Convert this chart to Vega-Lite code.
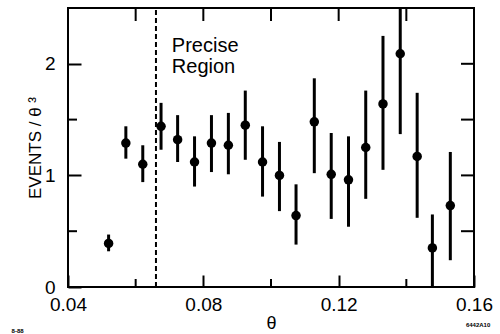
{
  "$schema": "https://vega.github.io/schema/vega-lite/v6.json",
  "width": 406,
  "height": 279,
  "autosize": {"type": "none"},
  "padding": {"left": 68, "top": 8, "right": 26, "bottom": 47},
  "background": "white",
  "config": {
    "view": {"stroke": "black", "strokeWidth": 2},
    "font": "Liberation Sans",
    "axis": {"grid": false, "domain": false, "ticks": true, "tickColor": "black", "tickWidth": 2, "tickOpacity": 1, "zindex": 1, "labelColor": "black", "titleColor": "black", "labelFont": "Liberation Sans", "titleFont": "Liberation Sans", "labelFontSize": 19, "titleFontSize": 17, "titleFontWeight": "normal", "labelFlush": false, "labelOverlap": false, "labelBound": false}
  },
  "datasets": {
    "pts": [
      {"theta": 0.0520, "v": 0.39, "lo": 0.32, "hi": 0.47},
      {"theta": 0.0571, "v": 1.29, "lo": 1.15, "hi": 1.44},
      {"theta": 0.0621, "v": 1.10, "lo": 0.94, "hi": 1.27},
      {"theta": 0.0675, "v": 1.44, "lo": 1.23, "hi": 1.65},
      {"theta": 0.0724, "v": 1.32, "lo": 1.12, "hi": 1.54},
      {"theta": 0.0774, "v": 1.12, "lo": 0.90, "hi": 1.35},
      {"theta": 0.0824, "v": 1.29, "lo": 1.03, "hi": 1.54},
      {"theta": 0.0874, "v": 1.27, "lo": 1.01, "hi": 1.56},
      {"theta": 0.0924, "v": 1.45, "lo": 1.14, "hi": 1.76},
      {"theta": 0.0975, "v": 1.12, "lo": 0.81, "hi": 1.44},
      {"theta": 0.1025, "v": 1.00, "lo": 0.68, "hi": 1.30},
      {"theta": 0.1074, "v": 0.64, "lo": 0.38, "hi": 0.92},
      {"theta": 0.1128, "v": 1.48, "lo": 1.02, "hi": 1.87},
      {"theta": 0.1178, "v": 1.01, "lo": 0.61, "hi": 1.38},
      {"theta": 0.1229, "v": 0.96, "lo": 0.54, "hi": 1.35},
      {"theta": 0.1280, "v": 1.25, "lo": 0.79, "hi": 1.76},
      {"theta": 0.1331, "v": 1.64, "lo": 1.05, "hi": 2.25},
      {"theta": 0.1382, "v": 2.09, "lo": 1.37, "hi": 2.50},
      {"theta": 0.1432, "v": 1.17, "lo": 0.62, "hi": 1.74},
      {"theta": 0.1477, "v": 0.35, "lo": 0.0, "hi": 0.65},
      {"theta": 0.1530, "v": 0.73, "lo": 0.24, "hi": 1.21}
    ],
    "cut": [{"theta": 0.066, "lo": 0, "hi": 2.5}],
    "labels": [
      {"theta": 0.0707, "v": 2.108, "t": "Precise"},
      {"theta": 0.0707, "v": 1.919, "t": "Region"}
    ],
    "notes": [
      {"theta": 0.1612, "v": -0.34, "t": "6442A10"},
      {"theta": 0.0251, "v": -0.39, "t": "8-88"}
    ],
    "tickBottomMinor": [{"theta": 0.06, "v": 0}, {"theta": 0.10, "v": 0}, {"theta": 0.14, "v": 0}],
    "tickTop": [{"theta": 0.06, "v": 2.5}, {"theta": 0.08, "v": 2.5}, {"theta": 0.10, "v": 2.5}, {"theta": 0.12, "v": 2.5}, {"theta": 0.14, "v": 2.5}],
    "tickLeftMinor": [{"theta": 0.04, "v": 0.5}, {"theta": 0.04, "v": 1.5}],
    "tickRight": [{"theta": 0.16, "v": 0.5}, {"theta": 0.16, "v": 1}, {"theta": 0.16, "v": 1.5}, {"theta": 0.16, "v": 2}]
  },
  "resolve": {"axis": {"x": "independent", "y": "independent"}},
  "layer": [
    {
      "data": {"name": "pts"},
      "mark": {"type": "rule", "color": "black", "strokeWidth": 3},
      "encoding": {
        "x": {"field": "theta", "type": "quantitative", "scale": {"domain": [0.04, 0.16], "nice": false, "zero": false},
              "axis": {"orient": "bottom", "values": [0.04, 0.08, 0.12, 0.16], "format": ".2f", "ticks": true, "tickSize": 12, "offset": -12, "labelPadding": 8, "title": "θ", "titleFontSize": 18, "titlePadding": 0}},
        "y": {"field": "lo", "type": "quantitative", "scale": {"domain": [0, 2.5], "nice": false},
              "axis": {"orient": "left", "values": [0, 1, 2], "format": "d", "ticks": true, "tickSize": 13, "offset": -13, "labelPadding": 13, "title": "EVENTS / θ ³", "titlePadding": 0}},
        "y2": {"field": "hi"}
      }
    },
    {
      "data": {"name": "pts"},
      "mark": {"type": "point", "filled": true, "shape": "circle", "color": "black", "opacity": 1, "size": 90},
      "encoding": {
        "x": {"field": "theta", "type": "quantitative", "axis": null},
        "y": {"field": "v", "type": "quantitative", "axis": null}
      }
    },
    {
      "data": {"name": "cut"},
      "mark": {"type": "rule", "color": "black", "strokeWidth": 2, "strokeDash": [5, 3]},
      "encoding": {
        "x": {"field": "theta", "type": "quantitative", "axis": null},
        "y": {"field": "lo", "type": "quantitative", "axis": null},
        "y2": {"field": "hi"}
      }
    },
    {
      "data": {"name": "tickBottomMinor"},
      "mark": {"type": "tick", "orient": "vertical", "size": 8, "thickness": 2, "yOffset": -4, "color": "black", "opacity": 1},
      "encoding": {
        "x": {"field": "theta", "type": "quantitative", "axis": null},
        "y": {"field": "v", "type": "quantitative", "axis": null}
      }
    },
    {
      "data": {"name": "tickTop"},
      "mark": {"type": "tick", "orient": "vertical", "size": 13, "thickness": 2, "yOffset": 6.5, "color": "black", "opacity": 1},
      "encoding": {
        "x": {"field": "theta", "type": "quantitative", "axis": null},
        "y": {"field": "v", "type": "quantitative", "axis": null}
      }
    },
    {
      "data": {"name": "tickLeftMinor"},
      "mark": {"type": "tick", "orient": "horizontal", "size": 9, "thickness": 2, "xOffset": 4.5, "color": "black", "opacity": 1},
      "encoding": {
        "x": {"field": "theta", "type": "quantitative", "axis": null},
        "y": {"field": "v", "type": "quantitative", "axis": null}
      }
    },
    {
      "data": {"name": "tickRight"},
      "mark": {"type": "tick", "orient": "horizontal", "size": 13, "thickness": 2, "xOffset": -6.5, "color": "black", "opacity": 1},
      "encoding": {
        "x": {"field": "theta", "type": "quantitative", "axis": null},
        "y": {"field": "v", "type": "quantitative", "axis": null}
      }
    },
    {
      "data": {"name": "labels"},
      "mark": {"type": "text", "align": "left", "baseline": "alphabetic", "fontSize": 20, "color": "black", "font": "Liberation Sans"},
      "encoding": {
        "x": {"field": "theta", "type": "quantitative", "axis": null},
        "y": {"field": "v", "type": "quantitative", "axis": null},
        "text": {"field": "t"}
      }
    },
    {
      "data": {"name": "notes"},
      "mark": {"type": "text", "align": "center", "baseline": "middle", "fontSize": 6, "fontWeight": "bold", "color": "black", "font": "Liberation Sans"},
      "encoding": {
        "x": {"field": "theta", "type": "quantitative", "axis": null},
        "y": {"field": "v", "type": "quantitative", "axis": null},
        "text": {"field": "t"}
      }
    }
  ]
}
